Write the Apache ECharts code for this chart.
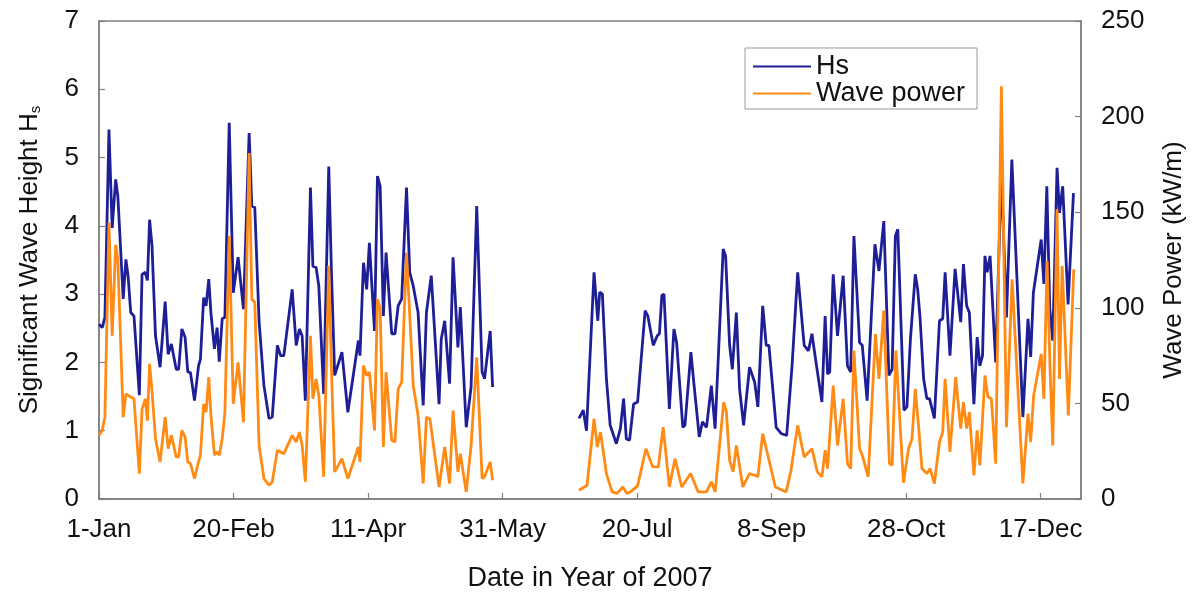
<!DOCTYPE html>
<html><head><meta charset="utf-8">
<script src="https://cdn.jsdelivr.net/npm/echarts@6/dist/echarts.min.js"></script>
<style>html,body{margin:0;padding:0;background:#fff}#c{width:1195px;height:597px}</style>
</head><body><div id="c"></div>
<script>
// x tick labels (every 50 days from 1-Jan-2007)
const xTickLabels = ['1-Jan','20-Feb','11-Apr','31-May','20-Jul','8-Sep','28-Oct','17-Dec'];

// Hs (m) — January to May
const hsDays1 = [0,1.2,2.2,3.7,4.9,6.2,7,9,10,10.8,11.8,13,15,16,17.2,18,18.8,19.7,21,22.7,24.6,25.7,26.9,28.7,29.6,30.8,32,33,34,35.5,37,37.7,38.9,39.8,40.8,41.6,42.9,43.9,44.7,45.8,46.8,48.4,49.9,51.7,53.7,55.8,56.8,57.9,59.5,61.3,63.2,64.4,66.3,67.5,68.7,71.8,73.3,74.5,75.5,76.7,78.6,79.5,80.7,81.7,83.5,85.4,86.4,87.6,90.3,92.5,96.4,97,98.3,99.5,100.5,102.4,103.5,104.5,105.7,106.7,108.8,110,111.2,112.5,114.3,115.5,116.8,118.6,120.5,121.7,123.5,126.4,127.2,128.5,130.3,131.6,133.4,134.3,136.5,138.3,140.4,142.4,143.3,145.4,146.3];
const hsValues1 = [2.56,2.51,2.66,5.41,3.97,4.68,4.44,2.93,3.51,3.27,2.73,2.68,1.52,3.29,3.32,3.2,4.09,3.71,2.39,1.93,2.89,2.12,2.27,1.9,1.9,2.49,2.37,1.86,1.85,1.44,1.95,2.05,2.95,2.83,3.22,2.73,2.2,2.51,2.01,2.64,2.66,5.51,3.02,3.54,2.78,5.36,4.29,4.27,2.6,1.66,1.18,1.2,2.25,2.1,2.1,3.07,2.25,2.49,2.39,1.44,4.56,3.41,3.39,3.12,1.54,4.87,3.32,1.81,2.15,1.27,2.32,2.1,3.46,3.07,3.75,2.46,4.73,4.58,2.68,3.61,2.42,2.42,2.83,2.93,4.56,3.32,3.12,2.73,1.37,2.73,3.27,1.39,2.34,2.61,1.69,3.54,2.22,2.81,1.05,1.64,4.29,1.86,1.76,2.46,1.64];

// Hs (m) — late June to December
const hsDays2 = [178.4,180,181.2,184,185.4,186.1,187.1,188.6,190,192.3,193.8,195,196,197.2,198.7,200.2,203,204,206,207.5,208.3,209.2,210,212,213.7,214.7,217,217.8,220,221.2,223.1,224.3,225.8,227.6,229,232,232.9,234.4,235.4,236.9,238.1,239.6,241.8,243.7,244.9,246.7,248,249,251.7,253.5,255.6,257.6,259.7,262.1,263.7,265,266.7,268.7,269.9,270.8,271.6,272.9,274.5,276.6,278.2,279.4,280.6,282.7,283.7,285.5,288.4,289.9,291.7,293.6,294.8,296,296.9,299.2,300.3,301.6,303.4,304.3,305.2,306.5,307.7,308.7,310.5,312.4,313.6,314.5,316.3,318.2,320.3,321.3,322.5,323.5,325.2,326.4,327.4,328.4,329.3,330.1,331.2,333.3,335.4,337.3,339.3,343.4,345.3,346.3,347.3,350.2,351.2,352.3,353.4,354.5,356.1,357,358.2,360.2,362.2];
const hsValues2 = [1.18,1.3,1.0,3.32,2.61,3.03,3.0,1.76,1.08,0.81,1.03,1.47,0.88,0.86,1.39,1.42,2.76,2.68,2.25,2.39,2.42,2.98,3.0,1.32,2.49,2.29,1.05,1.08,2.15,1.66,0.91,1.13,1.05,1.66,1.03,3.66,3.56,2.25,1.9,2.73,1.61,1.08,1.93,1.71,1.35,2.83,2.25,2.25,1.05,0.96,0.93,1.95,3.32,2.25,2.17,2.42,1.95,1.42,2.68,1.83,1.86,3.29,2.39,3.27,1.95,1.86,3.85,2.29,2.25,1.44,3.73,3.34,4.07,1.81,1.9,3.85,3.95,1.3,1.35,2.34,3.29,3.07,2.64,1.76,1.47,1.47,1.18,2.61,2.64,3.32,2.1,3.37,2.59,3.44,2.83,2.73,1.39,2.37,1.95,2.1,3.56,3.32,3.56,2.0,4.8,2.66,4.97,1.2,2.64,2.08,3.02,3.8,3.15,4.58,2.78,2.32,4.85,4.19,4.58,2.85,4.48];

// Wave power (kW/m) — January to May
const powerDays1 = [0,1.2,2.2,3.7,4.9,6.2,7,9,10,11.8,13,15,16,17.2,18,18.8,19.7,21,22.7,24.6,25.7,26.9,28.7,29.6,30.8,32,33,34,35.5,37,37.7,38.9,39.8,40.8,41.6,42.9,43.9,44.7,45.8,46.8,48.4,49.9,51.7,53.7,55.8,56.8,57.9,59.5,61.3,63.2,64.4,66.3,67.5,68.7,71.8,73.3,74.5,75.5,76.7,78.6,79.5,80.7,81.7,83.5,85.4,86.4,87.6,90.3,92.5,96.4,97,98.3,99.5,100.5,102.4,103.5,104.5,105.7,106.7,108.8,110,111.2,112.5,114.3,115.5,116.8,118.6,120.5,121.7,123,126.4,128.5,130.3,131.6,133.4,134.3,136.5,138.3,140.4,142.4,143.3,145.4,146.3];
const powerValues1 = [33.3,35.9,42.8,144.6,85.4,133,125,42.8,55,53.3,52.4,13.3,47,52.4,41,70.7,56.7,31.5,19.4,42.8,26.3,33.3,22,22,35.9,32.4,19.4,18.5,10.7,19.4,22.9,49.8,45.4,63.7,43.7,22.9,24.6,22.9,31.5,45.4,137.6,49.8,71.5,40.2,181,104.5,102.8,28,10.7,7.2,9,25.5,24.6,23.7,33.3,29.8,35,28,9,85.4,52.4,62.8,54.1,11.6,122,68,14.2,21.1,10.7,27.2,19.4,69.8,64.6,66.3,35.9,104.5,99.3,27.2,66.3,30.7,29.8,57.6,61.1,128.9,95.9,59.3,43.7,8.1,42.8,42,6.3,27.2,8.1,46.3,14.2,23.7,3.7,28,74.1,10.7,11.6,19.4,9.8];

// Wave power (kW/m) — late June to December
const powerDays2 = [178.4,181.4,184,185.2,186.4,188.6,190.7,192.5,194.7,196.2,197.5,200.2,203.3,205.8,207.9,209.7,212,214.1,216.6,219.9,222.7,225.8,227.6,229,232.2,233.2,234.4,235.7,236.9,239.3,241.8,243.7,244.9,246.7,248.6,251.4,255.4,257.2,259.7,262.1,265,267,268.7,269.9,270.8,272.9,274.5,276.6,278.2,279.4,280.6,282.7,283.7,285.9,288.6,289.9,291.7,293.8,294.8,296.2,299,300.9,302.2,303.4,304.6,305.9,307.7,308.9,310.5,312.4,313.6,314.5,316.3,318.4,320.3,321.3,322.5,323.5,325.2,326.4,327.4,329.3,330.4,331.7,333.3,335.4,337.3,339.4,343.4,345.3,346.3,347.4,350.2,351.2,352.4,353.5,354.5,356.1,357,358,360.3,362.3];
const powerValues2 = [4.6,7.2,42,27.2,35,13.3,3.7,2.9,6.3,2.9,3.7,6.9,26.3,16.8,16.8,37.6,6.3,21.1,6.3,13.3,3.7,3.7,9,3.7,50.7,45.4,20.2,14.2,28,6.3,13.3,12.4,11.6,34.2,22.9,6.3,3.7,15,38.5,22,26.3,14.2,11.6,25.5,15.9,59.3,28,52.4,18.5,15.9,77.6,26.3,22.9,11.6,86.3,62.8,98.5,18.5,17.6,77.6,8.5,26.3,31.5,57.6,38.5,15.9,13.3,15.9,8.1,29.8,35,62.8,24.6,63.7,36.8,50.7,36.8,45.4,12.4,35.9,17.6,64.6,53.3,52.4,18.5,215.8,37.6,114.9,8.1,44.6,29.8,54.1,75.9,52.4,124.5,68,28,151.5,62.8,121.9,43.7,120.2];

const gapDay = 162; // no data between the two measurement periods

function pairs(days, vals) { return days.map((d, i) => [d, vals[i]]); }
const hsData = pairs(hsDays1, hsValues1).concat([[gapDay, '-']], pairs(hsDays2, hsValues2));
const powerData = pairs(powerDays1, powerValues1).concat([[gapDay, '-']], pairs(powerDays2, powerValues2));

const FONT = '"Liberation Sans", Arial, sans-serif';
const AXC = '#808080';
const TXT = '#111111';
const BLUE = '#1e1e96';
const ORANGE = '#ff8a14';

const chart = echarts.init(document.getElementById('c'), null, {renderer: 'canvas'});
chart.setOption({
  animation: false,
  backgroundColor: '#ffffff',
  textStyle: {fontFamily: FONT},
  grid: {left: 99, right: 107, top: 21, bottom: 96, show: true, borderColor: AXC, borderWidth: 1.5, backgroundColor: 'transparent'},
  legend: {
    orient: 'vertical', left: 745, top: 48,
    itemWidth: 58, itemHeight: 2, itemGap: 0, itemTextGap: 5,
    padding: [5, 12, 2, 8],
    borderColor: '#999999', borderWidth: 1, borderRadius: 0,
    textStyle: {fontSize: 27, color: TXT, fontFamily: FONT, lineHeight: 25},
    data: [
      {name: 'Hs', icon: 'rect', itemStyle: {color: BLUE}},
      {name: 'Wave power', icon: 'rect', itemStyle: {color: ORANGE}}
    ]
  },
  xAxis: {
    type: 'value', min: 0, max: 365, interval: 50,
    axisLine: {show: true, lineStyle: {color: AXC, width: 1.5}},
    axisTick: {show: true, inside: true, length: 6, lineStyle: {color: AXC, width: 1.2}},
    splitLine: {show: false},
    axisLabel: {
      fontSize: 26, color: TXT, fontFamily: FONT, margin: 18, showMaxLabel: false,
      formatter: v => (v % 50 === 0 && xTickLabels[v / 50] !== undefined) ? xTickLabels[v / 50] : ''
    },
    name: 'Date in Year of 2007', nameLocation: 'middle', nameGap: 66,
    nameTextStyle: {fontSize: 27, color: TXT, fontFamily: FONT}
  },
  yAxis: [
    {
      type: 'value', position: 'left', min: 0, max: 7, interval: 1,
      axisLine: {show: true, lineStyle: {color: AXC, width: 1.5}},
      axisTick: {show: true, inside: true, length: 6, lineStyle: {color: AXC, width: 1.2}},
      splitLine: {show: false},
      axisLabel: {fontSize: 26, color: TXT, fontFamily: FONT, margin: 20},
      name: 'Significant Wave Height H{sub|s}', nameLocation: 'middle', nameRotate: 90, nameGap: 56,
      nameTextStyle: {fontSize: 26, color: TXT, fontFamily: FONT,
        rich: {sub: {fontSize: 15, color: TXT, fontFamily: FONT, verticalAlign: 'bottom', padding: [10, 0, 0, 0]}}}
    },
    {
      type: 'value', position: 'right', min: 0, max: 250, interval: 50,
      axisLine: {show: true, lineStyle: {color: AXC, width: 1.5}},
      axisTick: {show: true, inside: true, length: 6, lineStyle: {color: AXC, width: 1.2}},
      splitLine: {show: false},
      axisLabel: {fontSize: 26, color: TXT, fontFamily: FONT, margin: 20},
      name: 'Wave Power (kW/m)', nameLocation: 'middle', nameRotate: 90, nameGap: 80,
      nameTextStyle: {fontSize: 26, color: TXT, fontFamily: FONT}
    }
  ],
  series: [
    {name: 'Hs', type: 'line', yAxisIndex: 0, data: hsData, symbol: 'none', connectNulls: false,
     lineStyle: {color: BLUE, width: 2.8}, itemStyle: {color: BLUE}},
    {name: 'Wave power', type: 'line', yAxisIndex: 1, data: powerData, symbol: 'none', connectNulls: false,
     lineStyle: {color: ORANGE, width: 2.8}, itemStyle: {color: ORANGE}}
  ]
});
</script>
</body></html>
